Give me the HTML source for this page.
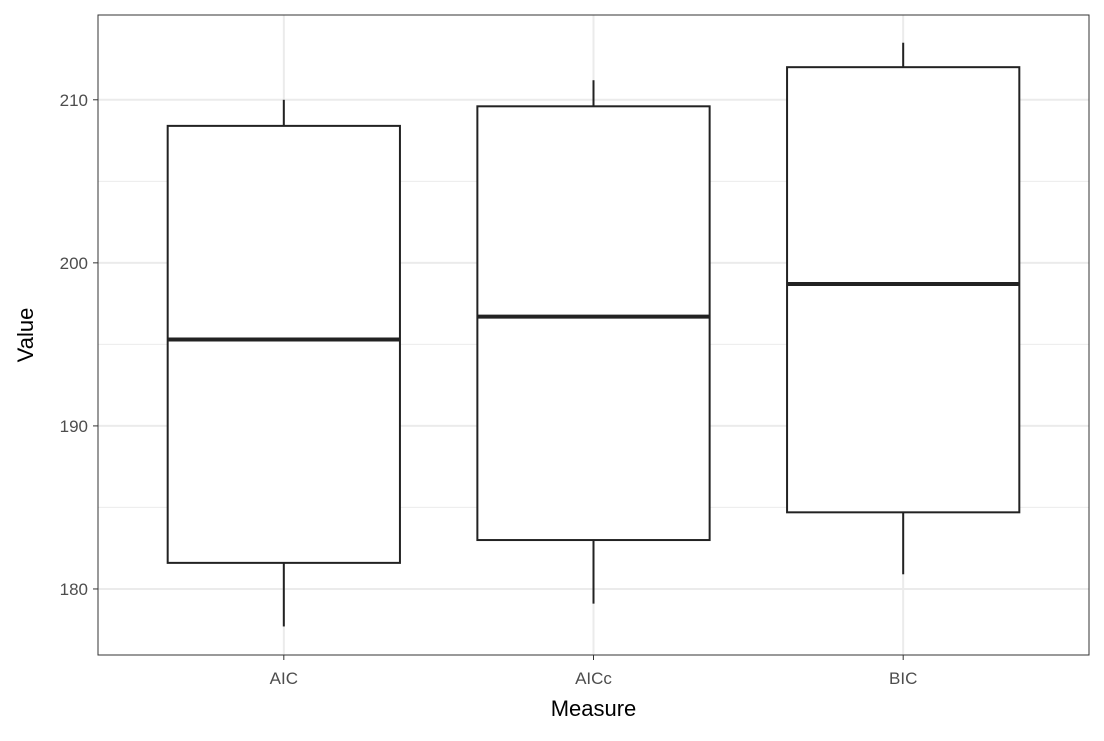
<!DOCTYPE html>
<html><head><meta charset="utf-8"><style>
body{margin:0;background:#fff;}
svg text{font-family:"Liberation Sans",Arial,sans-serif;}
</style></head><body>
<svg id="chart" width="1104" height="736"></svg>
<script>
const categories=["AIC","AICc","BIC"];
const whiskerLow=[177.7,179.1,180.9];
const q1=[181.6,183.0,184.7];
const medians=[195.3,196.7,198.7];
const q3=[208.4,209.6,212.0];
const whiskerHigh=[210.0,211.2,213.5];
const yTicks=[180,190,200,210];
const yMinor=[185,195,205];

const svg=document.getElementById('chart');
const NS='http://www.w3.org/2000/svg';
const L=98,R=1089,T=15,B=655;
const yMin=175.95,yMax=215.2;
const y=v=>B-(v-yMin)/(yMax-yMin)*(B-T);
const unit=(R-L)/(categories.length-1+1.2);
const x=i=>L+unit*(i+0.6);
const bw=unit*0.75;
function mk(tag,attrs,parent){const e=document.createElementNS(NS,tag);for(const k in attrs)e.setAttribute(k,attrs[k]);(parent||svg).appendChild(e);return e;}
mk('rect',{x:L,y:T,width:R-L,height:B-T,fill:'#fff'});
yMinor.forEach(v=>{const l=mk('line',{x1:L,x2:R,y1:y(v),y2:y(v),stroke:'#ebebeb','stroke-width':1});

});
yTicks.forEach(v=>{const l=mk('line',{x1:L,x2:R,y1:y(v),y2:y(v),stroke:'#ebebeb','stroke-width':2});


mk('line',{x1:L-5,x2:L,y1:y(v),y2:y(v),stroke:'#333','stroke-width':1});
const t=mk('text',{x:L-10,y:y(v)+6,'text-anchor':'end','font-size':17,fill:'#4d4d4d'});t.textContent=v;

});
categories.forEach((c,i)=>{
const l=mk('line',{x1:x(i),x2:x(i),y1:T,y2:B,stroke:'#ebebeb','stroke-width':2});


mk('line',{x1:x(i),x2:x(i),y1:B,y2:B+5,stroke:'#333','stroke-width':1});
const t=mk('text',{x:x(i),y:B+29,'text-anchor':'middle','font-size':17,fill:'#4d4d4d'});t.textContent=c;


const g=mk('g',{});


mk('line',{x1:x(i),x2:x(i),y1:y(whiskerHigh[i]),y2:y(q3[i]),stroke:'#222','stroke-width':2},g);
mk('line',{x1:x(i),x2:x(i),y1:y(q1[i]),y2:y(whiskerLow[i]),stroke:'#222','stroke-width':2},g);
mk('rect',{x:x(i)-bw/2,y:y(q3[i]),width:bw,height:y(q1[i])-y(q3[i]),fill:'#fff',stroke:'#222','stroke-width':2},g);
mk('line',{x1:x(i)-bw/2,x2:x(i)+bw/2,y1:y(medians[i]),y2:y(medians[i]),stroke:'#222','stroke-width':4},g);
});
mk('rect',{x:L,y:T,width:R-L,height:B-T,fill:'none',stroke:'#333','stroke-width':1});
const xt=mk('text',{x:(L+R)/2,y:716,'text-anchor':'middle','font-size':22,fill:'#000'});xt.textContent='Measure';


const yt=mk('text',{x:0,y:0,'text-anchor':'middle','font-size':22,fill:'#000',transform:'translate(33,'+((T+B)/2)+') rotate(-90)'});yt.textContent='Value';


</script>
</body></html>
